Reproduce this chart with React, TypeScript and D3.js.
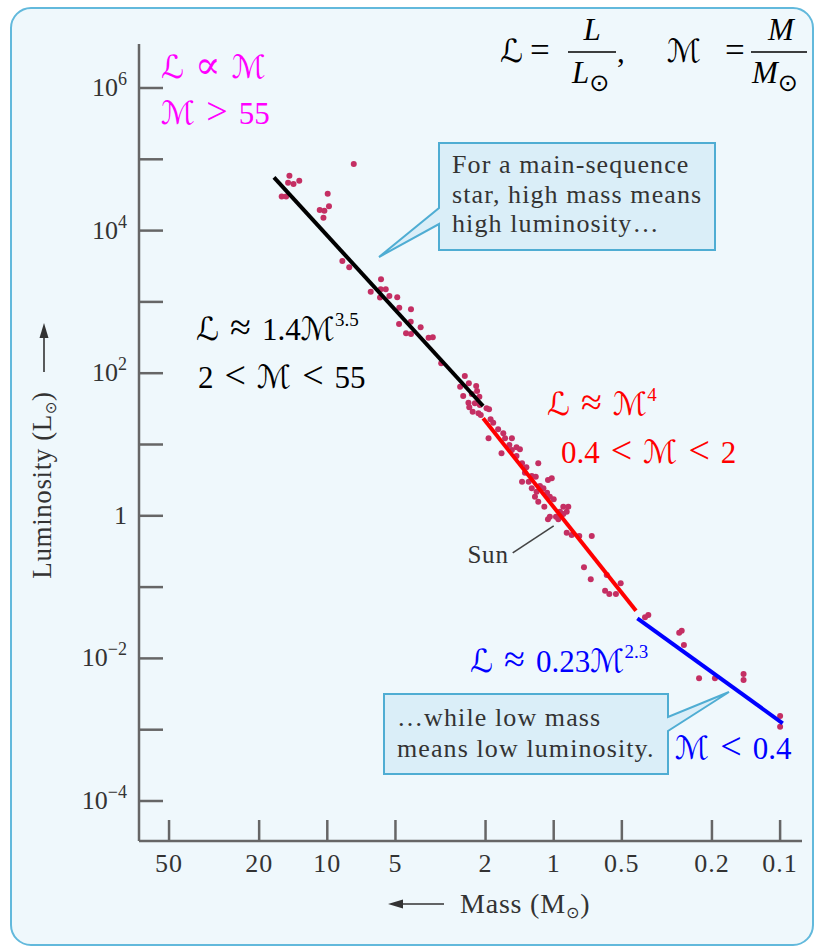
import * as d3 from "d3";

// Mass–luminosity relation for main-sequence stars
const starMass = [
  7.64, 14.7, 14.9, 14.1, 13.3, 15.9, 15.2, 9.96, 9.83, 10.8, 10.3, 10.4, 8.58, 8.0,
  5.79, 6.43, 5.81, 5.52, 5.85, 5.32, 4.91, 4.81, 4.27, 4.28, 4.82, 3.87, 4.49, 4.27,
  3.57, 3.42, 3.14, 2.47, 2.59, 2.37, 2.2, 2.51, 2.3, 2.13, 2.38, 2.23, 2.36, 2.12,
  1.98, 2.18, 2.28, 2.15, 1.93, 2.1, 1.9, 1.85, 1.94, 1.76, 1.67, 1.64, 1.53, 1.7,
  1.57, 1.53, 1.46, 1.41, 1.46, 1.38, 1.32, 1.17, 1.34, 1.25, 1.2, 1.38, 1.29, 1.15,
  1.06, 1.02, 1.25, 1.19, 1.11, 1.07, 1.04, 1.21, 1.17, 1.0, 1.1, 0.907, 0.862, 0.876,
  1.04, 0.977, 0.938, 1.06, 0.907, 0.954, 0.876, 0.833, 0.771, 0.679, 0.735, 0.686,
  0.583, 0.506, 0.593, 0.568, 0.531, 0.395, 0.382, 0.279, 0.272, 0.266, 0.228, 0.194,
  0.145, 0.145, 0.1, 0.1,
];
const starLum = [
  8.6e4, 5.9e4, 4.7e4, 4.5e4, 5.0e4, 3.0e4, 3.0e4, 3.3e4, 2.2e4, 1.94e4, 1.9e4, 1.52e4,
  3750, 3060, 2070, 1390, 1500, 1500, 1150, 1210, 1160, 829, 787, 528, 490, 440, 363,
  355, 315, 319, 138, 91.3, 64.7, 72.2, 66.1, 47.9, 51.1, 46.8, 38.6, 37.8, 33.2, 35.8,
  32.2, 56.3, 28.8, 27.4, 31.2, 25.9, 22.6, 20.2, 12.2, 16.3, 14.4, 12.2, 12.2, 7.53,
  9.84, 8.37, 9.13, 8.56, 6.9, 5.45, 4.79, 5.45, 4.02, 3.61, 3.53, 3.01, 3.01, 2.62,
  3.18, 3.36, 2.43, 2.18, 2.43, 2.11, 1.85, 1.85, 1.58, 1.7, 1.34, 1.34, 1.34, 1.14,
  0.971, 0.971, 1.14, 0.893, 1.06, 0.893, 0.579, 0.538, 0.521, 0.521, 0.19, 0.129,
  0.148, 0.113, 0.089, 0.08, 0.08, 0.0377, 0.0406, 0.0229, 0.0245, 0.0154, 0.00526,
  0.00526, 0.00604, 0.00498, 0.00156, 0.0011,
];

// fitted power-law segments (end points)
const blackFitMass = [17.2, 2.05];
const blackFitLum = [5.59e4, 34.7];
const redFitMass = [2.05, 0.433];
const redFitLum = [23.3, 0.0467];
const blueFitMass = [0.427, 0.0974];
const blueFitLum = [0.0365, 0.00123];

const massTicks = [50, 20, 10, 5, 2, 1, 0.5, 0.2, 0.1];
const massTickLabels = ["50", "20", "10", "5", "2", "1", "0.5", "0.2", "0.1"];
const lumTicks = [1e6, 1e5, 1e4, 1e3, 1e2, 1e1, 1, 1e-1, 1e-2, 1e-3, 1e-4];
const lumTickExp = ["6", "", "4", "", "2", "", "0", "", "−2", "", "−4"];

const serif = "'Liberation Serif', 'DejaVu Serif', serif";
const script = "'DejaVu Sans', 'DejaVu Serif', serif";

const panelFill = "#eff8fc";
const panelStroke = "#62b9dc";
const boxFill = "#daeef8";
const boxStroke = "#4fadd3";
const axisColor = "#666";
const textColor = "#333";
const dotColor = "#c42f63";

const Cal = ({ c }: { c: string }) => (
  <tspan fontFamily={script} fontSize={32}>
    {c}
  </tspan>
);
// relation symbol with TeX-like thick spacing on both sides
const Rel = ({ c }: { c: string }) => (
  <>
    <tspan fontSize={44}>{"\u2005"}</tspan>
    <tspan fontSize={38}>{c}</tspan>
    <tspan fontSize={44}>{"\u2005"}</tspan>
  </>
);
const Sup = ({ c }: { c: string }) => (
  <tspan fontSize={19} dy={-14}>
    {c}
  </tspan>
);

export default function App() {
  const W = 814;
  const H = 951;
  const x = d3.scaleLog().domain([100, 0.1]).range([100.9, 780.1]);
  const y = d3.scaleLog().domain([1e6, 1e-4]).range([88, 801]);
  const axisLeft = 139;
  const axisBottom = 841;
  const axisTop = 44;
  const axisRight = 802;

  const seg = (ms: number[], ls: number[]) =>
    d3
      .line<[number, number]>()
      .x((d) => x(d[0]))
      .y((d) => y(d[1]))(ms.map((m, i) => [m, ls[i]] as [number, number])) || "";

  const sx = x(1);
  const sy = y(1);

  return (
    <svg
      width={W}
      height={H}
      viewBox={`0 0 ${W} ${H}`}
      style={{ position: "absolute", left: 0, top: 0, display: "block" }}
    >
      <rect x={0} y={0} width={W} height={H} fill="#ffffff" />
      <rect x={11} y={8} width={802} height={937} rx={20} fill={panelFill} stroke={panelStroke} strokeWidth={2} />

      {/* axes */}
      <line x1={axisLeft} x2={axisLeft} y1={axisTop} y2={axisBottom} stroke={axisColor} strokeWidth={2.5} />
      <line x1={axisLeft} x2={axisRight} y1={axisBottom} y2={axisBottom} stroke={axisColor} strokeWidth={2.5} />
      {lumTicks.map((t, i) => (
        <g key={`ly${i}`}>
          <line x1={axisLeft} x2={axisLeft + 24} y1={y(t)} y2={y(t)} stroke={axisColor} strokeWidth={2.5} />
          {lumTickExp[i] !== "" && (
            <text x={127} y={y(t) + 8} textAnchor="end" fontFamily={serif} fontSize={26} fill={textColor}>
              {lumTickExp[i] === "0" ? (
                "1"
              ) : (
                <>
                  10
                  <tspan fontSize={18} dy={-11}>
                    {lumTickExp[i]}
                  </tspan>
                </>
              )}
            </text>
          )}
        </g>
      ))}
      {massTicks.map((t, i) => (
        <g key={`mx${i}`}>
          <line x1={x(t)} x2={x(t)} y1={axisBottom} y2={axisBottom - 21} stroke={axisColor} strokeWidth={2.5} />
          <text
            x={x(t)}
            y={872}
            textAnchor="middle"
            fontFamily={serif}
            fontSize={26}
            letterSpacing={1}
            fill={textColor}
          >
            {massTickLabels[i]}
          </text>
        </g>
      ))}

      {/* axis titles */}
      <g transform="translate(51,485) rotate(-90)">
        <text x={0} y={0} textAnchor="middle" fontFamily={serif} fontSize={27} letterSpacing={0.6} fill={textColor}>
          Luminosity (L<tspan fontFamily={script} fontSize={15} dy={5}>⊙</tspan>
          <tspan dy={-5}>)</tspan>
        </text>
      </g>
      <line x1={44} x2={44} y1={372} y2={334} stroke={textColor} strokeWidth={1.6} />
      <path d="M44,323 L39.5,338 L48.5,338 Z" fill={textColor} />

      <line x1={399} x2={444} y1={904} y2={904} stroke={textColor} strokeWidth={1.6} />
      <path d="M388,904 L403,899.5 L403,908.5 Z" fill={textColor} />
      <text x={460} y={913} fontFamily={serif} fontSize={28} letterSpacing={0.8} fill={textColor}>
        Mass (M<tspan fontFamily={script} fontSize={16} dy={5}>⊙</tspan>
        <tspan dy={-5}>)</tspan>
      </text>

      {/* stars */}
      {starMass.map((m, i) => (
        <circle key={`s${i}`} cx={x(m)} cy={y(starLum[i])} r={3} fill={dotColor} />
      ))}

      {/* fits */}
      <path d={seg(blackFitMass, blackFitLum)} stroke="#000" strokeWidth={4} fill="none" />
      <path d={seg(redFitMass, redFitLum)} stroke="#ff0000" strokeWidth={4} fill="none" />
      <path d={seg(blueFitMass, blueFitLum)} stroke="#0000ff" strokeWidth={4} fill="none" />

      {/* Sun marker */}
      <line x1={sx} y1={sy + 10} x2={sx - 41} y2={sy + 37} stroke="#444" strokeWidth={1.6} />
      <text
        x={sx - 45}
        y={sy + 47}
        textAnchor="end"
        fontFamily={serif}
        fontSize={25}
        letterSpacing={0.8}
        fill={textColor}
      >
        Sun
      </text>

      {/* callouts */}
      <path
        d="M439,143 H715 V250 H439 V224 L379,257 L439,208 Z"
        fill={boxFill}
        stroke={boxStroke}
        strokeWidth={2}
      />
      <g fontFamily={serif} fontSize={26} fill={textColor} letterSpacing={1.1}>
        <text x={452} y={173}>For a main-sequence</text>
        <text x={452} y={203}>star, high mass means</text>
        <text x={452} y={232}>high luminosity…</text>
      </g>
      <path
        d="M384,694 H668 V717 L729,692 L668,731 V774 H384 Z"
        fill={boxFill}
        stroke={boxStroke}
        strokeWidth={2}
      />
      <g fontFamily={serif} fontSize={26} fill={textColor} letterSpacing={1.1}>
        <text x={397} y={726}>…while low mass</text>
        <text x={397} y={757}>means low luminosity.</text>
      </g>

      {/* formula annotations */}
      <g fontFamily={serif} fontSize={31}>
        <text x={161} y={78} fill="#ff00ff">
          <Cal c="ℒ" />
          <Rel c="∝" />
          <Cal c="ℳ" />
        </text>
        <text x={161} y={124} fill="#ff00ff">
          <Cal c="ℳ" />
          <Rel c=">" />
          55
        </text>

        <text x={196} y={340} fill="#000">
          <Cal c="ℒ" />
          <Rel c="≈" />
          1.4
          <Cal c="ℳ" />
          <Sup c="3.5" />
        </text>
        <text x={198} y={388} fill="#000">
          2
          <Rel c="<" />
          <Cal c="ℳ" />
          <Rel c="<" />
          55
        </text>

        <text x={547} y={415} fill="#ff0000">
          <Cal c="ℒ" />
          <Rel c="≈" />
          <Cal c="ℳ" />
          <Sup c="4" />
        </text>
        <text x={561} y={463} fill="#ff0000">
          0.4
          <Rel c="<" />
          <Cal c="ℳ" />
          <Rel c="<" />2
        </text>

        <text x={470} y={672} fill="#0000ff">
          <Cal c="ℒ" />
          <Rel c="≈" />
          0.23
          <Cal c="ℳ" />
          <Sup c="2.3" />
        </text>
        <text x={675} y={759} fill="#0000ff">
          <Cal c="ℳ" />
          <Rel c="<" />
          0.4
        </text>

        {/* definitions */}
        <text x={500} y={62} fill="#000">
          <Cal c="ℒ" />
        </text>
        <text x={530} y={62} fontSize={35} fill="#000">=</text>
        <text x={592} y={40} textAnchor="middle" fontStyle="italic" fill="#000">L</text>
        <line x1={568} x2={616} y1={52} y2={52} stroke="#000" strokeWidth={1.3} />
        <text x={572} y={83} fill="#000">
          <tspan fontStyle="italic">L</tspan>
          <tspan fontFamily={script} fontSize={24} dy={8}>⊙</tspan>
        </text>
        <text x={617} y={62} fill="#000">,</text>
        <text x={667} y={62} fill="#000">
          <Cal c="ℳ" />
        </text>
        <text x={725} y={62} fontSize={35} fill="#000">=</text>
        <text x={781} y={40} textAnchor="middle" fontStyle="italic" fill="#000">M</text>
        <line x1={751} x2={807} y1={52} y2={52} stroke="#000" strokeWidth={1.3} />
        <text x={752} y={83} fill="#000">
          <tspan fontStyle="italic">M</tspan>
          <tspan fontFamily={script} fontSize={24} dy={8}>⊙</tspan>
        </text>
      </g>
    </svg>
  );
}
